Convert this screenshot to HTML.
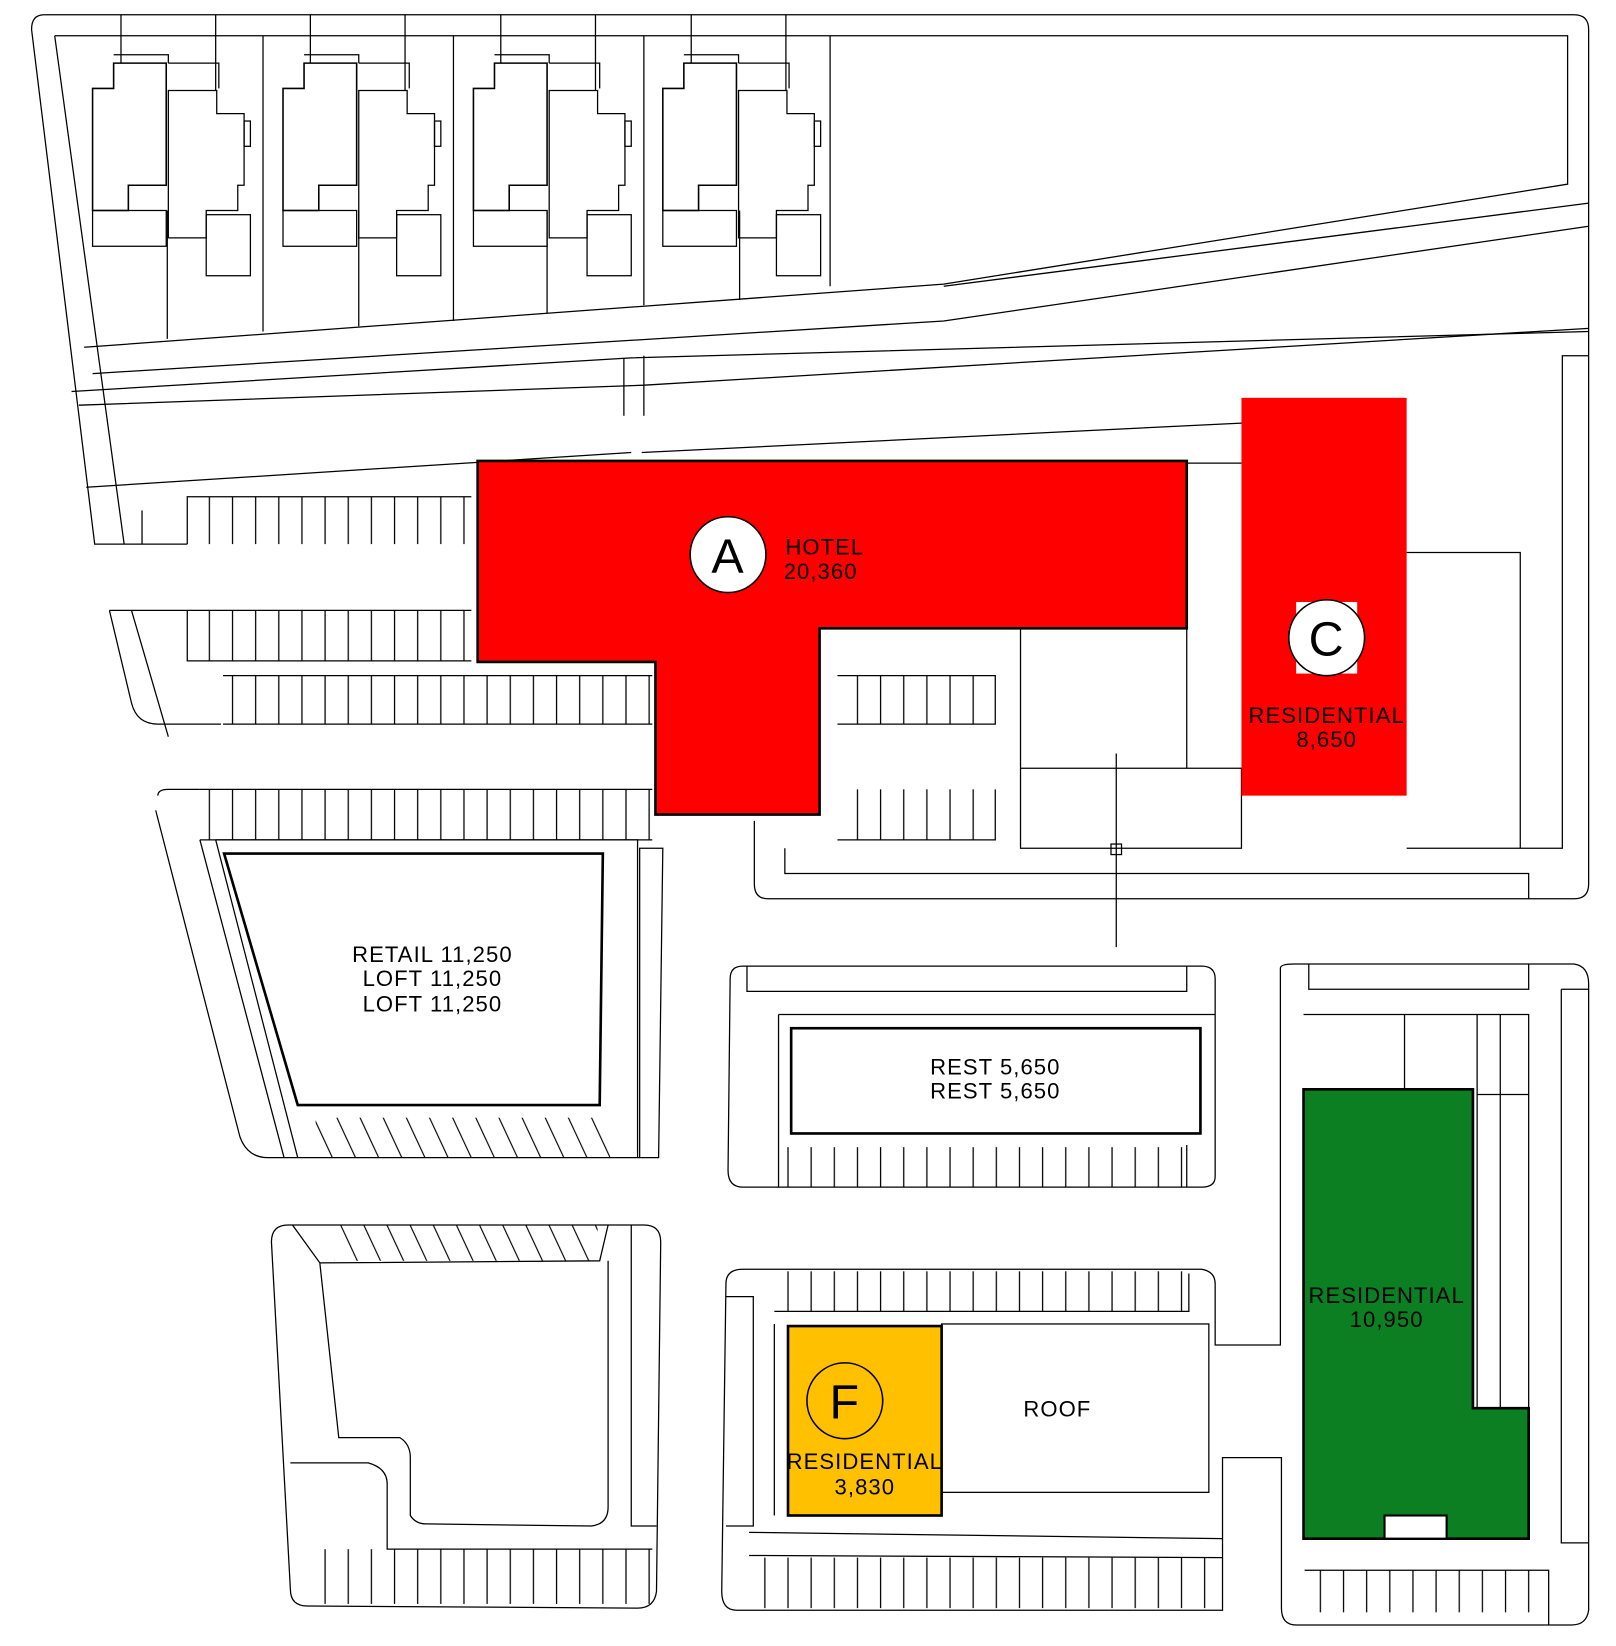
<!DOCTYPE html>
<html><head><meta charset="utf-8"><style>
html,body{margin:0;padding:0;background:#fff}
svg{display:block}
text{font-family:"Liberation Sans",sans-serif;font-weight:300;letter-spacing:1px}
</style></head><body>
<svg width="1616" height="1646" viewBox="0 0 1536 1564" preserveAspectRatio="none" xmlns="http://www.w3.org/2000/svg">
<defs>
<pattern id="st" width="22" height="10" patternUnits="userSpaceOnUse"><line x1="1" y1="0" x2="1" y2="10" stroke="#000" stroke-width="1.2"/></pattern>
<pattern id="dg" width="22" height="10" patternUnits="userSpaceOnUse" patternTransform="skewX(25)"><line x1="1" y1="0" x2="1" y2="10" stroke="#000" stroke-width="1.2"/></pattern>
</defs>
<g fill="none" stroke="#000" stroke-width="1.2">
<!-- outer boundary -->
<path d="M42,14 L1496,14 Q1510,14 1510,28 L1510,840 Q1510,854 1496,854 L730,854 Q717,854 717,840 L717,780"/>
<path d="M30,28 Q30,14 42,14 M30,28 L90,517 L178,517"/>
<path d="M52,34 L1490,34 L1490,175 L897,270 L80,330"/>
<path d="M52,34 L118,517"/>
<path d="M1510,193 L897,272 M1510,215 L897,305 L88,355"/>
<path d="M1510,312 L612,366 L75,385 M1510,338 L1485,338 L1485,806 L1337,806"/>
<path d="M68,372 L600,340 L1510,315"/>
<path d="M82,463 L600,430 M610,430 L1180,402 L1336,392"/>
<path d="M593,340 L593,395 M612,338 L612,395"/>
<path d="M135,485 L135,517"/>
<!-- house lot lines -->
<path d="M115,14 L115,60 M205,14 L205,86 M250,34 L250,315 M295,14 L295,60 M385,14 L385,86 M431,34 L431,305 M476,14 L476,60 M566,14 L566,86 M612,34 L612,290 M657,14 L657,60 M747,14 L747,86 M789,34 L789,272 M159,200 L159,322 M341,200 L341,310 M520,200 L520,298 M703,200 L703,285"/>
<!-- houses -->
<g id="h">
<path d="M88,84 L108,84 L108,60 L158,60 L158,176 L122,176 L122,200 L88,200 Z" stroke-width="1.5"/>
<path d="M160,86 L206,86 L206,108 L232,108 L232,176 L226,176 L226,200 L196,200 L196,226 L160,226 Z"/>
<path d="M108,52 L160,52 L160,60 M160,60 L208,60 L208,84"/>
<rect x="88" y="200" width="70" height="34"/>
<rect x="196" y="204" width="42" height="58"/>
<rect x="232" y="115" width="6" height="24"/>
</g>
<use href="#h" x="181"/><use href="#h" x="362"/><use href="#h" x="542"/>
<!-- parking rows left top -->
<path d="M178,517 L178,472 L448,472 M178,580 L178,628 L448,628 M104,580 L448,580 M104,580 L125,668 Q130,688 150,688 L210,688 M125,580 L160,700"/>
<path d="M212,642 L620,642 M212,688 L620,688 M190,750 L620,750 M190,798 L620,798"/>
<path d="M150,756 Q150,750 160,750 L190,750 M148,770 L228,1080 Q235,1100 255,1100 L626,1100 L630,806 L608,806 L608,1100"/>
<path d="M205,798 L606,798 L606,1100 M205,798 L283,1100 M190,798 L270,1100"/>
</g>
<rect x="180" y="472" width="270" height="45" fill="url(#st)"/>
<rect x="180" y="580" width="270" height="48" fill="url(#st)"/>
<rect x="212" y="642" width="410" height="46" fill="url(#st)"/>
<rect x="192" y="750" width="430" height="48" fill="url(#st)"/>
<rect x="796" y="642" width="150" height="46" fill="url(#st)"/>
<rect x="796" y="750" width="150" height="48" fill="url(#st)"/>
<rect x="300" y="1062" width="280" height="38" fill="url(#dg)"/>
<rect x="318" y="1164" width="250" height="34" fill="url(#dg)"/>
<rect x="740" y="1090" width="390" height="38" fill="url(#st)"/>
<rect x="738" y="1208" width="392" height="38" fill="url(#st)"/>
<rect x="308" y="1472" width="312" height="52" fill="url(#st)"/>
<rect x="710" y="1480" width="450" height="48" fill="url(#st)"/>
<rect x="1240" y="1492" width="232" height="40" fill="url(#st)"/>
<g fill="none" stroke="#000" stroke-width="1.2">
<path d="M796,642 L946,642 L946,688 L796,688 M796,798 L946,798 L946,750 M970,597 L970,806 L1180,806 L1180,730 L970,730 M1061,716 L1061,900 M1128,440 L1180,440 M1337,525 L1445,525 L1445,806 M1128,597 L1128,730"/>
<rect x="1056" y="802" width="10" height="10"/>
<path d="M746,806 L746,830 L1453,830 L1453,854"/>
<!-- retail -->
<path d="M213,811 L573,811 L570,1050 L283,1050 Z" stroke-width="2.5"/>
<!-- rest block -->
<path d="M694,930 Q694,918 706,918 L1142,918 Q1155,918 1155,930 L1155,1118 Q1155,1128 1142,1128 L706,1128 Q692,1128 692,1112 Z"/>
<path d="M710,918 L710,942 L1128,942 L1128,918 M740,964 L1155,964 M740,964 L740,1128 M1128,1088 L1128,1128"/>
<rect x="752" y="977" width="389" height="100" stroke-width="2.5"/>
<!-- bottom left block -->
<path d="M258,1180 Q258,1164 274,1164 L612,1164 Q628,1164 628,1180 L624,1512 Q622,1528 606,1528 L292,1526 Q276,1526 276,1510 Z"/>
<path d="M278,1164 L304,1200 L570,1198 L578,1164 M304,1200 L322,1366 L380,1366 Q390,1372 390,1385 L390,1440 Q395,1448 405,1448 L562,1450 Q578,1448 578,1432 L578,1198 M600,1164 L600,1450 L624,1450 M276,1390 L350,1390 Q368,1395 368,1410 L368,1472 L620,1472"/>
<!-- F block -->
<path d="M690,1220 Q690,1206 706,1206 L1142,1206 Q1155,1208 1155,1220 L1155,1278 L1217,1278 L1217,920 Q1217,916 1230,916 L1496,916 Q1510,918 1510,935 L1510,1530 Q1508,1544 1494,1544 L1232,1544 Q1218,1544 1218,1528 L1218,1385 L1162,1385 L1162,1530 Q1160,1530 1148,1530 L700,1530 Q686,1530 686,1512 Z"/>
<path d="M690,1232 L716,1232 L716,1450 L690,1450 M736,1246 L1130,1246 L1130,1210 M736,1258 L736,1440 M712,1478 L1162,1480 M712,1456 L1162,1462"/>
<rect x="895" y="1258" width="254" height="160"/>
<path d="M1244,916 L1244,940 L1453,940 L1453,916 M1239,964 L1453,964 L1453,1338 M1335,964 L1335,1035 M1404,964 L1404,1338 M1426,964 L1426,1338 M1404,1040 L1453,1040 M1484,940 L1510,940 M1484,940 L1484,1466 L1510,1466 M1240,1492 L1472,1492 L1472,1544"/>
</g>
<!-- colored buildings -->
<path d="M454,438 L1128,438 L1128,597 L779,597 L779,774 L623,774 L623,629 L454,629 Z" fill="#ff0000" stroke="#000" stroke-width="2.5"/>
<rect x="1180" y="378" width="157" height="378" fill="#ff0000"/>
<path d="M1239,1035 L1400,1035 L1400,1338 L1453,1338 L1453,1462 L1239,1462 Z" fill="#0b7f22" stroke="#000" stroke-width="2.5"/>
<rect x="1316" y="1440" width="59" height="22" fill="#fff" stroke="#000" stroke-width="2"/>
<rect x="749" y="1260" width="146" height="180" fill="#ffc000" stroke="#000" stroke-width="2.5"/>
<!-- circles -->
<circle cx="692" cy="527" r="36" fill="#fff" stroke="#000" stroke-width="1.5"/>
<rect x="1232" y="572" width="58" height="68" fill="#fff"/>
<circle cx="1261" cy="606" r="36" fill="#fff" stroke="#000" stroke-width="1.5"/>
<circle cx="803" cy="1331" r="36" fill="none" stroke="#000" stroke-width="1.5"/>
<g font-size="44" text-anchor="middle" fill="#000">
<text x="692" y="544" font-size="46">A</text>
<text x="1261" y="623" font-size="46">C</text>
<text x="803" y="1348" font-size="46">F</text>
</g>
<g font-size="21" fill="#000" text-anchor="middle">
<text x="784" y="527">HOTEL</text><text x="780" y="550">20,360</text>
<text x="1261" y="687">RESIDENTIAL</text><text x="1261" y="710">8,650</text>
<text x="411" y="914">RETAIL  11,250</text><text x="411" y="937">LOFT  11,250</text><text x="411" y="961">LOFT  11,250</text>
<text x="946" y="1021">REST  5,650</text><text x="946" y="1044">REST  5,650</text>
<text x="1318" y="1238">RESIDENTIAL</text><text x="1318" y="1261">10,950</text>
<text x="822" y="1396">RESIDENTIAL</text><text x="822" y="1420">3,830</text>
<text x="1005" y="1346">ROOF</text>
</g>
</svg>
</body></html>
